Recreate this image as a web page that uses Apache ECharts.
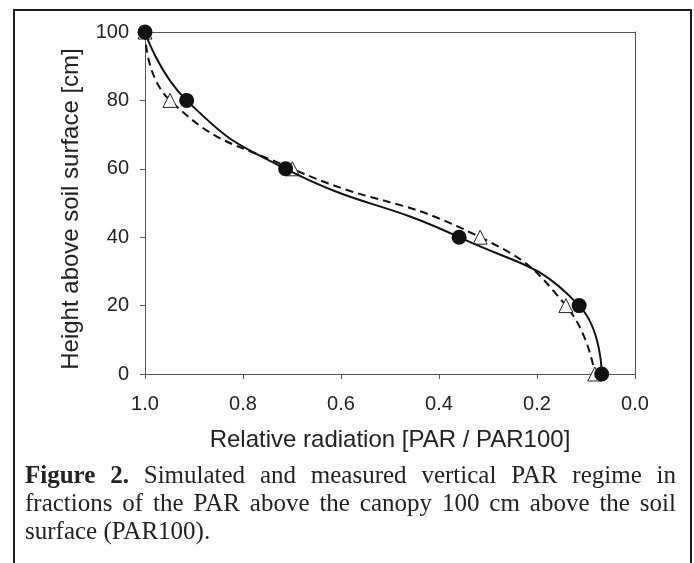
<!DOCTYPE html>
<html>
<head>
<meta charset="utf-8">
<script src="https://cdn.jsdelivr.net/npm/echarts@6/dist/echarts.min.js"></script>
<style>
html,body{margin:0;padding:0;background:#fff;}
#wrap{position:relative;width:694px;height:563px;overflow:hidden;}
#chart{position:absolute;left:0;top:0;width:694px;height:563px;}
#caption{position:absolute;left:25px;top:461px;width:651px;font-family:"Liberation Serif","Times New Roman",serif;font-size:25px;line-height:28px;color:#222;text-align:justify;}
</style>
</head>
<body>
<div id="wrap">
<div id="chart"></div>
<div id="caption"><b>Figure 2.</b> Simulated and measured vertical PAR regime in fractions of the PAR above the canopy 100 cm above the soil surface (PAR100).</div>
</div>
<script>
// Heights above soil surface [cm]
var heights = [100, 80, 60, 40, 20, 0];
// Simulated relative radiation (solid line, filled circles)
var simulated = [1.0, 0.915, 0.713, 0.359, 0.114, 0.068];
// Measured relative radiation (dashed line, open triangles)
var measured = [1.0, 0.949, 0.699, 0.316, 0.141, 0.082];

function pairs(xs, ys){ return xs.map(function(v,i){ return [v, ys[i]]; }); }

var chart = echarts.init(document.getElementById('chart'), null, {renderer:'canvas'});
var axisColor = '#555';
var textFont = 'Liberation Sans';
var frameAxis = {
  axisLine:{show:true, onZero:false, lineStyle:{color:axisColor, width:1}},
  axisTick:{show:false}, axisLabel:{show:false}, splitLine:{show:false}
};
chart.setOption({
  animation:false,
  backgroundColor:'#fff',
  grid:{left:145, top:32, width:490, height:342, show:false},
  xAxis:[{
    type:'value', inverse:true, min:0, max:1, interval:0.2, position:'bottom',
    name:'Relative radiation [PAR / PAR100]', nameLocation:'middle', nameGap:54,
    nameTextStyle:{fontFamily:textFont, fontSize:24, color:'#222'},
    axisLine:{show:true, onZero:false, lineStyle:{color:axisColor, width:1}},
    axisTick:{show:true, inside:false, length:5, lineStyle:{color:axisColor}},
    axisLabel:{fontFamily:textFont, fontSize:20, color:'#222', margin:20,
      formatter:function(v){ return v.toFixed(1); }},
    splitLine:{show:false}
  }, Object.assign({type:'value', inverse:true, min:0, max:1, position:'top'}, frameAxis)],
  yAxis:[{
    type:'value', min:0, max:100, interval:20, position:'left',
    name:'Height above soil surface [cm]', nameLocation:'middle', nameGap:62,
    nameTextStyle:{fontFamily:textFont, fontSize:24, color:'#222', padding:[0,12,0,0]},
    axisLine:{show:true, onZero:false, lineStyle:{color:axisColor, width:1}},
    axisTick:{show:true, inside:false, length:5, lineStyle:{color:axisColor}},
    axisLabel:{fontFamily:textFont, fontSize:20, color:'#222', margin:16},
    splitLine:{show:false}
  }, Object.assign({type:'value', min:0, max:100, position:'right'}, frameAxis)],
  series:[
    {
      name:'Measured', type:'line', data:pairs(measured, heights), smooth:0.5,
      xAxisIndex:0, yAxisIndex:0,
      lineStyle:{color:'#111', width:2, type:[8,5]},
      symbol:'triangle', symbolSize:14,
      itemStyle:{color:'#fff', borderColor:'#222', borderWidth:1},
      z:2
    },
    {
      name:'Simulated', type:'line', data:pairs(simulated, heights), smooth:0.5,
      xAxisIndex:0, yAxisIndex:0,
      lineStyle:{color:'#111', width:2},
      symbol:'circle', symbolSize:15,
      itemStyle:{color:'#111', borderColor:'#111', borderWidth:0},
      z:3
    }
  ],
  graphic:[
    {type:'rect', shape:{x:14, y:10, width:677, height:600}, style:{fill:'none', stroke:'#1a1a1a', lineWidth:2}, silent:true, z:10}
  ]
});
</script>
</body>
</html>
